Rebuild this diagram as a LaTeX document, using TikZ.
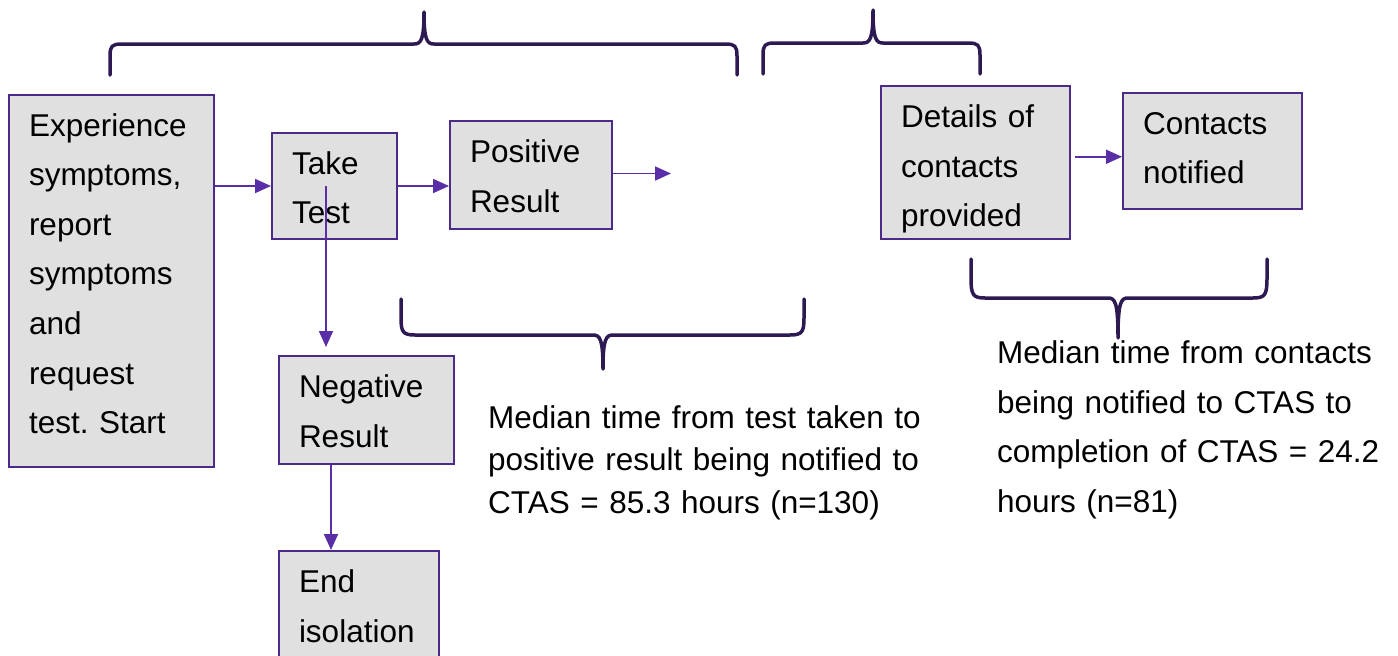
\documentclass[tikz,border=0pt]{standalone}
\usepackage{fontspec}
\setmainfont{Liberation Sans}
\usetikzlibrary{arrows.meta,calc}
\definecolor{boxfill}{HTML}{E0E0E0}
\definecolor{boxline}{HTML}{4B2A8A}
\definecolor{arrc}{HTML}{5A2EA6}
\definecolor{bracec}{HTML}{2E1A52}
\frenchspacing
\tikzset{
  mybox/.style={draw=boxline, fill=boxfill, line width=2pt, inner xsep=20pt, inner ysep=0pt,
    align=left, anchor=north west, font=\fontsize{31.5}{49.6}\selectfont},
  arr/.style={draw=arrc, line width=1.8pt, -{Triangle[length=16pt,width=14pt]}},
  bracepath/.style={draw=bracec, line width=3.5pt, line cap=round, line join=round},
  caption/.style={align=left, anchor=north west, inner sep=0pt, text height=30pt}
}
\begin{document}
\begin{tikzpicture}[x=1pt,y=-1pt]
\useasboundingbox (0,0) rectangle (1398,656);
\clip (0,0) rectangle (1398,656);

% boxes
\node[mybox, text width=165pt, text height=41pt, text depth=331pt] (A) at (8,94)
  {Experience\\symptoms,\\report\\symptoms\\and\\request\\test. Start};
\node[mybox, text width=85pt, text height=41pt, text depth=65pt] (B) at (271,132)
  {Take\\Test};
\node[mybox, text width=122pt, text height=41.5pt, text depth=66.5pt] (C) at (449,120)
  {Positive\\Result};
\node[mybox, text width=149pt, text height=41.5pt, text depth=111.5pt] (D) at (880,85)
  {Details of\\contacts\\provided};
\node[mybox, text width=139pt, text height=41pt, text depth=75pt] (E) at (1122,92)
  {Contacts\\notified};
\node[mybox, text width=135pt, text height=41.5pt, text depth=66.5pt] (F) at (278,355)
  {Negative\\Result};
\node[mybox, text width=120pt, text height=41.5pt, text depth=88.5pt] (G) at (278,550)
  {End\\isolation};

% captions
\node[caption, text width=460pt, text depth=100pt, font=\fontsize{31.5}{42.5}\selectfont] (T1) at (488,398)
  {Median time from test taken to\\positive result being notified to\\CTAS = 85.3 hours (n=130)};
\node[caption, text width=400pt, text depth=160pt, font=\fontsize{31.5}{49.8}\selectfont] (T2) at (997,333)
  {Median time from contacts\\being notified to CTAS to\\completion of CTAS = 24.2\\hours (n=81)};

% connectors
\draw[arr] (A.east |- B.west) -- (B.west);
\draw[arr] (B.east) -- (B.east -| C.west);
\coordinate (cend) at (671,173.5);
\draw[arr] (C.east |- cend) -- (cend);
\coordinate (de) at ($(D.east)!0.5!(E.west)$);
\draw[arr] ([xshift=4pt]D.east |- de) -- (E.west |- de);
\coordinate (bf) at ([xshift=-8.5pt]B.center);
\draw[arr, shorten >=8pt] (bf) -- (bf |- F.north);
\coordinate (fg) at ([xshift=-35.5pt]F.south);
\draw[arr] (fg) -- (fg |- G.north);

% braces
\draw[bracepath] (110,75) -- (110,56) .. controls (110,46) and (112,44) .. (122,44)
  -- (414,44) .. controls (421,44) and (424,40) .. (424,12)
  .. controls (424,40) and (427,44) .. (434,44)
  -- (725,44) .. controls (735,44) and (737,46) .. (737,56) -- (737,75);
\draw[bracepath] (763,74) -- (763,55) .. controls (763,45) and (765,43) .. (775,43)
  -- (863,43) .. controls (870,43) and (873,39) .. (873,10)
  .. controls (873,39) and (876,43) .. (883,43)
  -- (968,43) .. controls (978,43) and (980,45) .. (980,55) -- (980,74);
\draw[bracepath] (401,299) -- (401,318) .. controls (401,332) and (403,335) .. (415,335)
  -- (593,335) .. controls (600,335) and (603,339) .. (603,369)
  .. controls (603,339) and (606,335) .. (613,335)
  -- (790,335) .. controls (802,335) and (804,332) .. (804,318) -- (804,299);
\draw[bracepath] (971,259) -- (971,278) .. controls (971,295) and (973,298) .. (985,298)
  -- (1108,298) .. controls (1115,298) and (1118,302) .. (1118,338)
  .. controls (1118,302) and (1121,298) .. (1128,298)
  -- (1253,298) .. controls (1265,298) and (1267,295) .. (1267,278) -- (1267,259);
\end{tikzpicture}
\end{document}
